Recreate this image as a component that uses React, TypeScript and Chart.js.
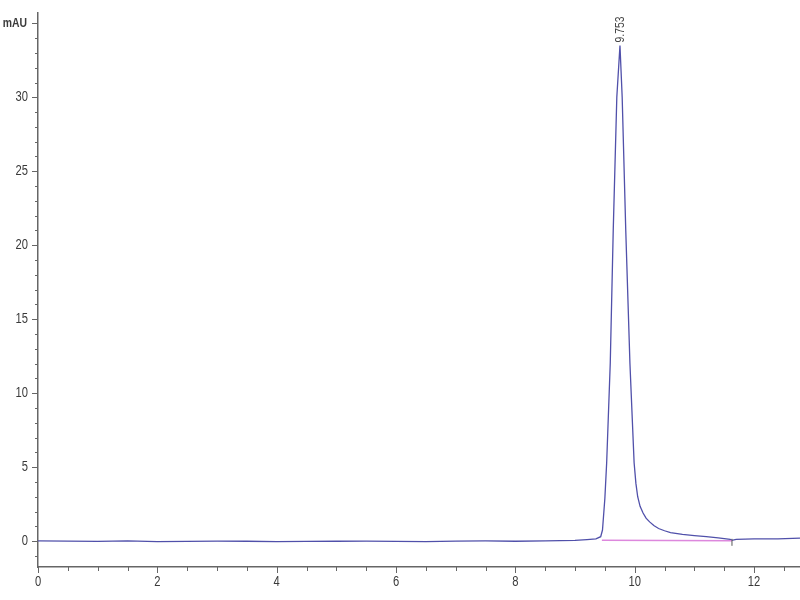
import React, { useEffect, useRef } from "react";
import { Chart, registerables } from "chart.js";

Chart.register(...registerables);

// Retention time (min) and absorbance (mAU)
const retentionTimes = [
  0, 0.5, 1, 1.5, 2, 2.5, 3, 3.5, 4, 4.5, 5, 5.5, 6, 6.5, 7, 7.5, 8, 8.5, 9, 9.2,
  9.35, 9.43, 9.46, 9.5, 9.53, 9.59, 9.64, 9.7, 9.753, 9.79, 9.85, 9.92, 9.99,
  10.02, 10.05, 10.09, 10.14, 10.19, 10.25, 10.32, 10.4, 10.5, 10.6, 10.8, 11.0,
  11.2, 11.4, 11.6, 11.63, 11.7, 12.0, 12.4, 12.77,
];
const absorbance = [
  0.02, 0.0, -0.02, 0.01, -0.03, -0.02, 0.0, -0.01, -0.03, -0.02, -0.01, 0.0,
  -0.02, -0.03, 0.0, 0.01, -0.01, 0.02, 0.05, 0.1, 0.15, 0.3, 0.75, 2.9, 5.3,
  12.0, 21.0, 30.0, 33.5, 30.0, 21.0, 12.0, 5.3, 3.9, 3.0, 2.35, 1.9, 1.55, 1.3,
  1.05, 0.85, 0.7, 0.58, 0.45, 0.37, 0.3, 0.22, 0.12, 0.05, 0.12, 0.15, 0.15,
  0.2,
];
const baselineTimes = [9.45, 11.63];
const baselineValues = [0.05, 0.02];

const peakTime = 9.753;
const peakValue = 33.5;
const peakLabel = "9.753";

const yLabelValues = [0, 5, 10, 15, 20, 25, 30];
const yUnitLabel = "mAU";
const yUnitValue = 35;
const xLabelValues = [0, 2, 4, 6, 8, 10, 12];

const FONT = "'Liberation Sans', Arial, sans-serif";
const SQUEEZE = 0.8;

function squeezedText(ctx: CanvasRenderingContext2D, text: string, x: number, y: number, align: "left" | "right" | "center") {
  ctx.save();
  ctx.translate(x, y);
  ctx.scale(SQUEEZE, 1);
  ctx.textAlign = align;
  ctx.fillText(text, 0, 0);
  ctx.restore();
}

const tickPlugin = {
  id: "tickMarks",
  afterDraw(chart: any) {
    const { ctx, chartArea, scales } = chart;
    const xs = scales.x;
    const ys = scales.y;
    ctx.save();
    ctx.strokeStyle = "#666";
    ctx.lineWidth = 1;
    for (let v = Math.ceil(ys.min); v <= Math.floor(ys.max); v++) {
      const y = Math.round(ys.getPixelForValue(v)) + 0.5;
      const len = v % 5 === 0 ? 6 : 3;
      ctx.beginPath();
      ctx.moveTo(chartArea.left - len, y);
      ctx.lineTo(chartArea.left, y);
      ctx.stroke();
    }
    for (let v = 0; v <= xs.max; v += 0.5) {
      const x = Math.round(xs.getPixelForValue(v)) + 0.5;
      const len = Math.abs(v % 2) < 1e-9 ? 6 : 4;
      ctx.beginPath();
      ctx.moveTo(x, chartArea.bottom);
      ctx.lineTo(x, chartArea.bottom + len);
      ctx.stroke();
    }
    // tick labels
    ctx.fillStyle = "#3a3a3a";
    ctx.font = `14px ${FONT}`;
    ctx.textBaseline = "middle";
    for (const v of yLabelValues) {
      squeezedText(ctx, String(v), chartArea.left - 10, ys.getPixelForValue(v), "right");
    }
    ctx.font = `bold 13px ${FONT}`;
    squeezedText(ctx, yUnitLabel, chartArea.left - 11, ys.getPixelForValue(yUnitValue), "right");
    ctx.font = `14px ${FONT}`;
    ctx.textBaseline = "top";
    for (const v of xLabelValues) {
      squeezedText(ctx, String(v), xs.getPixelForValue(v), chartArea.bottom + 8, "center");
    }
    // peak label
    const px = xs.getPixelForValue(peakTime);
    const py = ys.getPixelForValue(peakValue);
    ctx.fillStyle = "#444";
    ctx.font = `13px ${FONT}`;
    ctx.translate(px, py - 3);
    ctx.rotate(-Math.PI / 2);
    ctx.scale(SQUEEZE, 1);
    ctx.textAlign = "left";
    ctx.textBaseline = "middle";
    ctx.fillText(peakLabel, 0, 0);
    ctx.restore();
    // integration end mark
    ctx.save();
    ctx.strokeStyle = "#555";
    ctx.lineWidth = 1;
    const bx = xs.getPixelForValue(baselineTimes[1]);
    const by = ys.getPixelForValue(baselineValues[1]);
    ctx.beginPath();
    ctx.moveTo(bx, by - 2);
    ctx.lineTo(bx, by + 5);
    ctx.stroke();
    ctx.restore();
  },
};

export default function App() {
  const ref = useRef<HTMLCanvasElement | null>(null);
  useEffect(() => {
    document.body.style.margin = "0";
    const canvas = ref.current;
    if (!canvas) return;
    const chart = new Chart(canvas, {
      type: "line",
      data: {
        datasets: [
          {
            data: baselineTimes.map((t, i) => ({ x: t, y: baselineValues[i] })),
            borderColor: "#dd88dd",
            borderWidth: 1.5,
            pointRadius: 0,
            fill: false,
          },
          {
            data: retentionTimes.map((t, i) => ({ x: t, y: absorbance[i] })),
            borderColor: "#5050aa",
            borderWidth: 1.3,
            pointRadius: 0,
            fill: false,
            tension: 0,
          },
        ],
      },
      options: {
        animation: false,
        responsive: false,
        layout: { padding: { top: 13, right: 0, left: 0, bottom: 0 } },
        plugins: { legend: { display: false }, tooltip: { enabled: false } },
        scales: {
          x: {
            type: "linear",
            min: 0,
            max: 12.77,
            grid: { display: false },
            border: { display: true, color: "#666", width: 1.5 },
            afterFit: (s: any) => {
              s.height = 33;
            },
            ticks: { display: false },
          },
          y: {
            type: "linear",
            min: -1.75,
            max: 35.7,
            grid: { display: false },
            border: { display: true, color: "#666", width: 1.5 },
            afterFit: (s: any) => {
              s.width = 38;
            },
            ticks: { display: false },
          },
        },
      },
      plugins: [tickPlugin],
    });
    return () => chart.destroy();
  }, []);
  return <canvas ref={ref} width={800} height={600} />;
}
